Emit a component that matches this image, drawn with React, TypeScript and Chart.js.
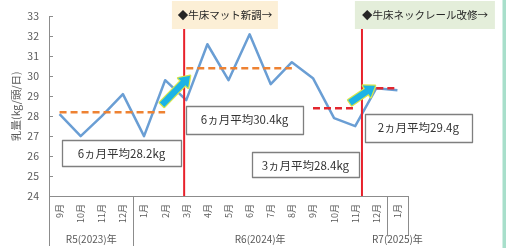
import React, { useEffect, useRef } from 'react';
import { Chart, registerables } from 'chart.js';

Chart.register(...registerables);

// ---- data ----
const months = ['9月', '10月', '11月', '12月', '1月', '2月', '3月', '4月', '5月', '6月', '7月', '8月', '9月', '10月', '11月', '12月', '1月'];
const milkYield = [28.1, 27.0, 28.0, 29.1, 27.0, 29.8, 28.8, 31.6, 29.8, 32.1, 29.6, 30.7, 29.9, 27.9, 27.5, 29.4, 29.3];

const avgValues = [28.2, 30.4, 28.4, 29.4];
const avgStart = [0, 6, 12, 15];
const avgEnd = [5, 11, 14, 16];
const avgLabels = ['6ヵ月平均28.2kg', '6ヵ月平均30.4kg', '3ヵ月平均28.4kg', '2ヵ月平均29.4g'];

const yearLabels = ['R5(2023)年', 'R6(2024)年', 'R7(2025)年'];
const yearStart = [0, 4, 16];
const yearEnd = [3, 15, 16];

const eventLabels = ['◆牛床マット新調→', '◆牛床ネックレール改修→'];
const eventIndex = [5.9, 14.32];

const yTitle = '乳量(kg/頭/日)';

// ---- annotation placement (scale coordinates) ----
const avgBoxX = [2.93, 8.76, 11.64, 16.99];
const avgBoxY = [26.14, 27.83, 25.57, 27.43];
const avgBoxW = [119, 117, 107, 107];
const avgBoxH = [26, 28, 25, 28];

const eventBoxX = [7.83, 17.3];
const eventBoxW = [106, 140];
const eventBoxColor = ['#FCEFD6', '#E4EEDA'];

const arrowFrom = [[4.85, 28.57], [13.75, 28.67]];
const arrowTo = [[6.18, 30.02], [14.94, 29.52]];

const FONT = '"Noto Sans CJK JP", "Noto Sans", sans-serif';
const GRAY = '#595959';
const AXIS = '#8C8C8C';

const overlay = {
  id: 'overlay',
  beforeDraw(chart: any) {
    const { ctx, width, height } = chart;
    ctx.save();
    ctx.fillStyle = '#ffffff';
    ctx.fillRect(0, 0, width, height);
    ctx.fillStyle = '#A8DFCB';
    ctx.fillRect(width - 3.5, 0, 3.5, height);
    ctx.restore();
  },
  afterDatasetsDraw(chart: any) {
    const { ctx, chartArea } = chart;
    const xs = chart.scales.x;
    const ys = chart.scales.y;
    ctx.save();

    // y tick marks (inside)
    ctx.strokeStyle = AXIS;
    ctx.lineWidth = 1;
    for (let v = 24; v <= 33; v++) {
      const y = Math.round(ys.getPixelForValue(v)) + 0.5;
      ctx.beginPath();
      ctx.moveTo(chartArea.left, y);
      ctx.lineTo(chartArea.left + 4, y);
      ctx.stroke();
    }

    // category-group separators below the axis
    const sepPos = [yearStart[0] - 0.5, yearStart[1] - 0.5, yearStart[2] - 0.5, yearEnd[2] + 0.5];
    const sepBottom = [246, 246, 236, 236];
    sepPos.forEach((p, i) => {
      const x = Math.round(xs.getPixelForValue(p)) + 0.5;
      ctx.beginPath();
      ctx.moveTo(x, chartArea.bottom);
      ctx.lineTo(x, sepBottom[i]);
      ctx.stroke();
    });
    // year labels
    ctx.fillStyle = GRAY;
    ctx.font = `10px ${FONT}`;
    ctx.textAlign = 'center';
    ctx.textBaseline = 'middle';
    yearLabels.forEach((t, i) => {
      const a = xs.getPixelForValue(yearStart[i] - 0.5);
      const b = xs.getPixelForValue(yearEnd[i] + 0.5);
      ctx.fillText(t, (a + b) / 2, 239);
    });

    // event vertical lines
    ctx.strokeStyle = '#E8212B';
    ctx.lineWidth = 2;
    eventIndex.forEach((idx) => {
      const x = xs.getPixelForValue(idx);
      ctx.beginPath();
      ctx.moveTo(x, 29);
      ctx.lineTo(x, chartArea.bottom);
      ctx.stroke();
    });

    // event header boxes
    eventLabels.forEach((t, i) => {
      const cx = xs.getPixelForValue(eventBoxX[i]);
      const w = eventBoxW[i];
      ctx.fillStyle = eventBoxColor[i];
      ctx.fillRect(cx - w / 2, 1, w, 28);
      ctx.fillStyle = '#262626';
      ctx.font = `10.5px ${FONT}`;
      ctx.textAlign = 'center';
      ctx.textBaseline = 'middle';
      ctx.fillText(t, cx, 15.5);
    });

    // arrows
    arrowFrom.forEach((f, i) => {
      const x0 = xs.getPixelForValue(f[0]);
      const y0 = ys.getPixelForValue(f[1]);
      const x1 = xs.getPixelForValue(arrowTo[i][0]);
      const y1 = ys.getPixelForValue(arrowTo[i][1]);
      const dx = x1 - x0, dy = y1 - y0;
      const len = Math.hypot(dx, dy);
      const ux = dx / len, uy = dy / len;
      const nx = -uy, ny = ux;
      const hw = 3.2, hh = 7, hl = 10;
      const bx = x1 - ux * hl, by = y1 - uy * hl;
      ctx.beginPath();
      ctx.moveTo(x0 + nx * hw, y0 + ny * hw);
      ctx.lineTo(bx + nx * hw, by + ny * hw);
      ctx.lineTo(bx + nx * hh, by + ny * hh);
      ctx.lineTo(x1, y1);
      ctx.lineTo(bx - nx * hh, by - ny * hh);
      ctx.lineTo(bx - nx * hw, by - ny * hw);
      ctx.lineTo(x0 - nx * hw, y0 - ny * hw);
      ctx.closePath();
      ctx.lineJoin = 'round';
      ctx.strokeStyle = '#D6E64A';
      ctx.lineWidth = 2.5;
      ctx.stroke();
      ctx.fillStyle = '#1BB3E6';
      ctx.fill();
    });

    // average text boxes
    avgLabels.forEach((t, i) => {
      const cx = xs.getPixelForValue(avgBoxX[i]);
      const cy = ys.getPixelForValue(avgBoxY[i]);
      const w = avgBoxW[i], h = avgBoxH[i];
      const l = Math.round(cx - w / 2) + 0.5, tp = Math.round(cy - h / 2) + 0.5;
      ctx.fillStyle = '#ffffff';
      ctx.fillRect(l, tp, w, h);
      ctx.strokeStyle = '#7F7F7F';
      ctx.lineWidth = 1.3;
      ctx.strokeRect(l, tp, w, h);
      ctx.fillStyle = '#333333';
      ctx.font = `11.5px ${FONT}`;
      ctx.textAlign = 'center';
      ctx.textBaseline = 'middle';
      ctx.fillText(t, cx, cy + 0.5);
    });

    ctx.restore();
  },
};

export default function App() {
  const ref = useRef<HTMLCanvasElement>(null);
  useEffect(() => {
    const canvas = ref.current;
    if (!canvas) return;
    const avgDatasets = avgValues.map((v, k) => ({
      label: avgLabels[k],
      data: months.map((_, i) => (i >= avgStart[k] && i <= avgEnd[k] ? v : null)),
      borderColor: k < 2 ? '#EE8232' : '#E3262E',
      borderWidth: 2.5,
      borderDash: [7, 4],
      pointRadius: 0,
      fill: false,
      order: 1,
    }));
    const chart = new Chart(canvas, {
      type: 'line',
      data: {
        labels: months,
        datasets: [
          ...avgDatasets,
          {
            label: '乳量',
            data: milkYield,
            borderColor: '#6A9ED4',
            borderWidth: 2.5,
            borderJoinStyle: 'round',
            pointRadius: 0,
            tension: 0,
            fill: false,
            order: 2,
          },
        ],
      } as any,
      options: {
        responsive: false,
        animation: false,
        layout: { padding: { left: 0, top: 15, right: 98, bottom: 0 } },
        plugins: { legend: { display: false }, tooltip: { enabled: false } },
        scales: {
          x: {
            offset: true,
            grid: { display: false, drawTicks: false },
            border: { display: true, color: AXIS, width: 1 },
            ticks: {
              autoSkip: false,
              maxRotation: 90,
              minRotation: 90,
              padding: 8,
              color: GRAY,
              font: { size: 9, family: FONT },
            },
            afterFit: (s: any) => {
              s.height = 52;
            },
          },
          y: {
            min: 24,
            max: 33,
            grid: { display: false, drawTicks: false },
            border: { display: true, color: AXIS, width: 1 },
            ticks: { stepSize: 1, padding: 10, color: GRAY, font: { size: 10.5, family: FONT } },
            title: {
              display: true,
              text: yTitle,
              color: GRAY,
              font: { size: 10.5, family: FONT },
              padding: { top: 10, bottom: 0 },
            },
            afterFit: (s: any) => {
              s.width = 49;
            },
          },
        },
      } as any,
      plugins: [overlay],
    });
    return () => chart.destroy();
  }, []);
  return (
    <div style={{ position: 'fixed', left: 0, top: 0, width: 506, height: 248, background: '#fff' }}>
      <canvas ref={ref} width={506} height={248} style={{ display: 'block', width: 506, height: 248 }} />
    </div>
  );
}
